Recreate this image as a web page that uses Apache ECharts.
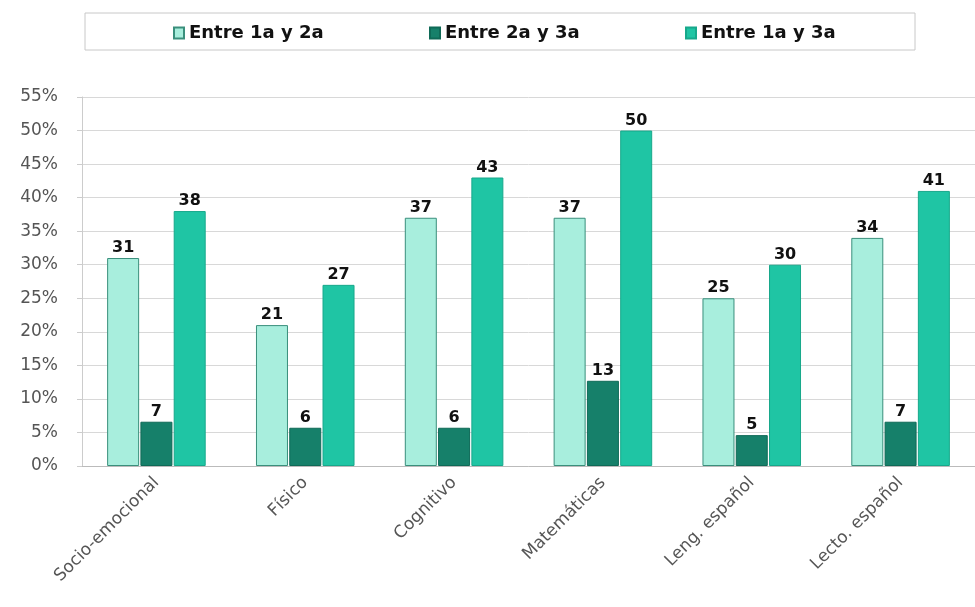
<!DOCTYPE html>
<html>
<head>
<meta charset="utf-8">
<script src="https://cdn.jsdelivr.net/npm/echarts@6/dist/echarts.min.js"></script>
<style>html,body{margin:0;padding:0;background:#fff}#c{width:975px;height:607px}</style>
</head>
<body>
<div id="c"></div>
<script>
var categories = ['Socio-emocional', 'Físico', 'Cognitivo', 'Matemáticas', 'Leng. español', 'Lecto. español'];
var seriesNames = ['Entre 1a y 2a', 'Entre 2a y 3a', 'Entre 1a y 3a'];
var s1 = [31, 21, 37, 37, 25, 34];
var s2 = [6.6, 5.7, 5.7, 12.7, 4.6, 6.6];
var s3 = [38, 27, 43, 50, 30, 41];
var yTicks = [0, 5, 10, 15, 20, 25, 30, 35, 40, 45, 50, 55];

var colors = ['#a8eedd', '#16806a', '#1fc5a4'];
var borders = ['#3a8f7c', '#0f6a57', '#17a88b'];
var legendLeft = [168, 424, 680];

var chart = echarts.init(document.getElementById('c'));
function mk(name, data, i) {
  return {
    name: name, type: 'bar', data: data,
    barWidth: 32, barGap: '4%',
    itemStyle: { color: colors[i], borderColor: borders[i], borderWidth: 1 },
    label: {
      show: true, position: 'top', distance: 2,
      formatter: function (p) { return Math.round(p.value); },
      fontFamily: 'DejaVu Sans', fontWeight: 'bold', fontSize: 16, color: '#111'
    }
  };
}
var legends = seriesNames.map(function (n, i) {
  return {
    top: 19, left: legendLeft[i], itemWidth: 10, itemHeight: 11, icon: 'rect', itemGap: 6,
    textStyle: { fontFamily: 'DejaVu Sans', fontWeight: 'bold', fontSize: 18, color: '#111' },
    data: [n]
  };
});
chart.setOption({
  animation: false,
  color: colors,
  graphic: [{
    type: 'rect', shape: { x: 85, y: 13, width: 830, height: 37 },
    style: { fill: '#fff', stroke: '#c8c8c8', lineWidth: 1 }, z: -1
  }],
  legend: legends,
  grid: { left: 82, top: 97, width: 901, height: 369 },
  xAxis: {
    type: 'category', data: categories,
    axisLine: { lineStyle: { color: '#bbb' } },
    axisTick: { show: false },
    axisLabel: { rotate: 45, fontFamily: 'DejaVu Sans', fontSize: 17, color: '#555', margin: 14 }
  },
  yAxis: {
    type: 'value', min: 0, max: 55, interval: 5,
    axisLine: { show: true, lineStyle: { color: '#ccc' } },
    axisTick: { show: true, length: 5, lineStyle: { color: '#ccc' } },
    splitLine: { lineStyle: { color: '#d8d8d8' } },
    axisLabel: {
      fontFamily: 'DejaVu Sans', fontSize: 17, color: '#555', margin: 24,
      formatter: function (v) { return yTicks.indexOf(v) >= 0 ? v + '%' : ''; }
    }
  },
  series: [mk(seriesNames[0], s1, 0), mk(seriesNames[1], s2, 1), mk(seriesNames[2], s3, 2)]
});
</script>
</body>
</html>
